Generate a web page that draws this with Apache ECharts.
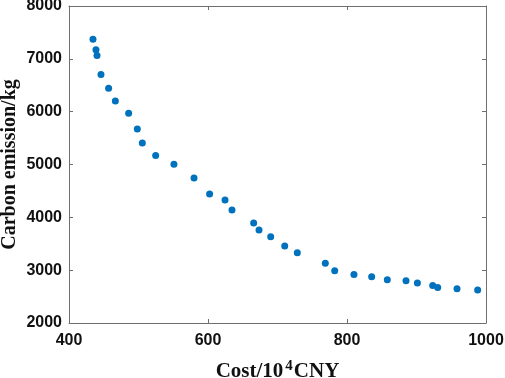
<!DOCTYPE html>
<html>
<head>
<meta charset="utf-8">
<script src="https://cdn.jsdelivr.net/npm/echarts@6/dist/echarts.min.js"></script>
<style>
  html, body { margin: 0; padding: 0; background: #fff; }
  #chart { width: 505px; height: 378px; }
</style>
</head>
<body>
<div id="chart"></div>
<script>
// cost (10^4 CNY) and carbon emission (kg) of each solution
const cost = [434.5, 438.8, 440.3, 446, 457, 466.7, 485.8, 498.3, 505.5, 524.7,
  551, 579.9, 602.3, 624.5, 634.5, 665.7, 673.4, 690.2, 710.4, 728.5,
  768.8, 782.3, 810, 835.5, 858, 884.9, 901.3, 923.3, 930.5, 958.3, 988]
const emission = [7371, 7170, 7063, 6703, 6443, 6204, 5970, 5674, 5409, 5169,
  5004, 4746, 4443, 4329, 4140, 3894, 3761, 3634, 3458, 3331,
  3129, 2991, 2920, 2877, 2820, 2801, 2757, 2712, 2674, 2650, 2625]

const chart = echarts.init(document.getElementById('chart'))

const axisColor = '#6f6f6f'
const labelStyle = {
  color: '#111',
  fontFamily: 'Liberation Sans',
  fontWeight: 'bold',
  fontSize: 16,
  formatter: v => String(v)
}

// box-style frame: secondary axes carry only lines and inward ticks
const frameAxis = {
  axisLine: { show: true, lineStyle: { color: axisColor, width: 1 } },
  axisTick: { show: true, inside: true, length: 4, lineStyle: { color: axisColor } },
  axisLabel: { show: false },
  splitLine: { show: false }
}

chart.setOption({
  animation: false,
  backgroundColor: '#fff',
  grid: { left: 69, right: 19, top: 6, bottom: 55, containLabel: false, outerBoundsMode: 'none' },
  xAxis: [
    {
      type: 'value', min: 400, max: 1000, interval: 200,
      name: '{a|Cost/10}{s|4}{a|CNY}',
      nameLocation: 'middle',
      nameGap: 36,
      nameTextStyle: {
        rich: {
          a: { fontFamily: 'Liberation Serif', fontWeight: 'bold', fontSize: 21, color: '#111' },
          s: { fontFamily: 'Liberation Serif', fontWeight: 'bold', fontSize: 15, color: '#111', padding: [0, 1, 11, 2] }
        }
      },
      axisLine: { show: true, lineStyle: { color: axisColor } },
      axisTick: { show: true, inside: true, length: 4, lineStyle: { color: axisColor } },
      axisLabel: { ...labelStyle, margin: 10 },
      splitLine: { show: false }
    },
    { type: 'value', min: 400, max: 1000, interval: 200, position: 'top', ...frameAxis }
  ],
  yAxis: [
    {
      type: 'value', min: 2000, max: 8000, interval: 1000,
      name: 'Carbon emission/kg',
      nameLocation: 'middle',
      nameGap: 49,
      nameMoveOverlap: false,
      nameTextStyle: { fontFamily: 'Liberation Serif', fontWeight: 'bold', fontSize: 20, color: '#111' },
      axisLine: { show: true, lineStyle: { color: axisColor } },
      axisTick: { show: true, inside: true, length: 4, lineStyle: { color: axisColor } },
      axisLabel: { ...labelStyle, margin: 7 },
      splitLine: { show: false }
    },
    { type: 'value', min: 2000, max: 8000, interval: 1000, position: 'right', ...frameAxis }
  ],
  series: [
    {
      type: 'scatter',
      symbolSize: 7,
      itemStyle: { color: '#0072BD', opacity: 1 },
      data: cost.map((c, i) => [c, emission[i]])
    }
  ]
})
</script>
</body>
</html>
